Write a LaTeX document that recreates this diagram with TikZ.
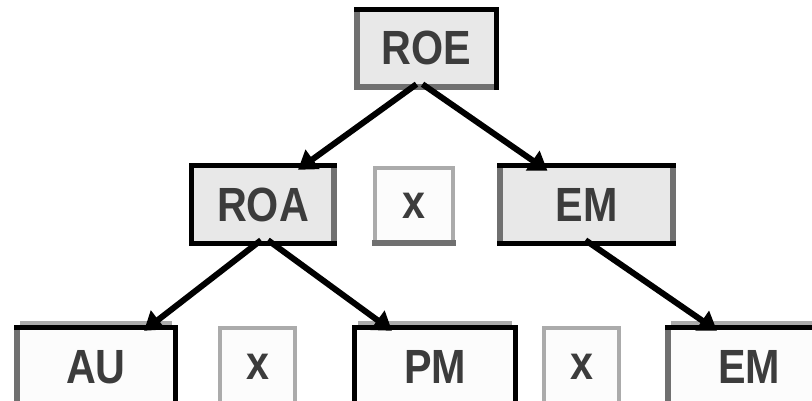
\documentclass[tikz,border=0pt]{standalone}
\usepackage{fontspec}
\setmainfont{Liberation Sans}
\usetikzlibrary{arrows.meta,calc}
\definecolor{txt}{HTML}{3C3C3C}
\definecolor{boxfill}{HTML}{E8E8E8}
\definecolor{plainfill}{HTML}{FCFCFC}
\definecolor{edgegray}{HTML}{707070}
\definecolor{softgray}{HTML}{ABABAB}
\newcommand{\lbltext}[1]{\scalebox{0.86}[1]{#1}}
\tikzset{
  lbl/.style={font=\bfseries\fontsize{48}{52}\selectfont, text=txt, inner sep=0pt},
  shaded/.style={lbl, fill=boxfill},
  plain/.style={lbl, fill=plainfill},
  blk/.style={line width=5pt, black, line cap=rect},
  gry/.style={line width=5.5pt, edgegray, line cap=rect},
  soft/.style={line width=4pt, softgray, line cap=rect},
  arr/.style={line width=6pt, -{Triangle[length=18pt,width=23pt]}}
}
\begin{document}
\begin{tikzpicture}[x=1pt,y=-1pt]
\useasboundingbox (0,0) rectangle (812,401);
\clip (0,0) rectangle (812,401);

% top level
\node[shaded, minimum width=139pt, minimum height=77pt] (roe) at (426.5,48.5) {\raisebox{2pt}{\lbltext{ROE}}};
% middle level
\node[shaded, minimum width=142pt, minimum height=77pt] (roa) at (263,204.5) {\lbltext{ROA}};
\node[plain,  minimum width=78pt,  minimum height=75pt] (xm) at (414,205.5) {\lbltext{x}};
\node[shaded, minimum width=173pt, minimum height=77pt] (emm) at (586.5,204.5) {\lbltext{EM}};
% bottom level
\node[plain, minimum width=158pt, minimum height=78pt] (au) at (96,367) {\lbltext{AU}};
\node[plain, minimum width=75pt,  minimum height=78pt] (xa) at (257.5,367) {\lbltext{x}};
\node[plain, minimum width=160pt, minimum height=78pt] (pm) at (435,367) {\lbltext{PM}};
\node[plain, minimum width=75pt,  minimum height=78pt] (xb) at (581.5,367) {\lbltext{x}};
\node[plain, minimum width=162pt, minimum height=78pt] (emb) at (749,367) {\lbltext{EM}};

% bevelled frames
\draw[gry] (roe.north west) -- (roe.south west) -- (roe.south east);
\draw[blk] (roe.north west) -- (roe.north east) -- (roe.south east);

\draw[gry] (roa.north east) -- (roa.south east);
\draw[blk] (roa.north east) -- (roa.north west) -- (roa.south west) -- (roa.south east);

\draw[soft] (xm.north west) rectangle (xm.south east);
\draw[gry] (xm.south west) -- (xm.south east);

\draw[gry] (emm.north west) -- (emm.south west);
\draw[gry] (emm.north east) -- (emm.south east);
\draw[blk] (emm.north west) -- (emm.north east);
\draw[blk] (emm.south west) -- (emm.south east);

\draw[gry] (au.north west) -- (au.south west);
\draw[blk] (au.north west) -- (au.north east) -- (au.south east);
\draw[soft] ([xshift=5pt,yshift=5pt]au.north west) -- ([xshift=-5pt,yshift=5pt]au.north east);

\draw[soft] (xa.south west) -- (xa.north west) -- (xa.north east) -- (xa.south east);

\draw[blk] (pm.south west) -- (pm.north west) -- (pm.north east) -- (pm.south east);
\draw[soft] ([xshift=5pt,yshift=5pt]pm.north west) -- ([xshift=-5pt,yshift=5pt]pm.north east);

\draw[soft] (xb.south west) -- (xb.north west) -- (xb.north east) -- (xb.south east);

\draw[gry] (emb.north west) -- (emb.south west);
\draw[blk] (emb.north west) -- (emb.north east);
\draw[soft] ([xshift=5pt,yshift=5pt]emb.north west) -- ([xshift=-5pt,yshift=5pt]emb.north east);

% connectors
\draw[arr] ([xshift=-10pt,yshift=3pt]roe.south) -- ([xshift=35pt,yshift=-4pt]roa.north);
\draw[arr] ([xshift=-4pt,yshift=3pt]roe.south) -- ([xshift=-39pt,yshift=-5pt]emm.north);
\draw[arr] ([xshift=-2pt,yshift=3pt]roa.south) -- ([xshift=48pt,yshift=-3pt]au.north);
\draw[arr] ([xshift=5pt,yshift=3pt]roa.south) -- ([xshift=-43pt,yshift=-3pt]pm.north);
\draw[arr] ([xshift=-1pt,yshift=3pt]emm.south) -- ([xshift=-32pt,yshift=-3pt]emb.north);
\end{tikzpicture}
\end{document}
